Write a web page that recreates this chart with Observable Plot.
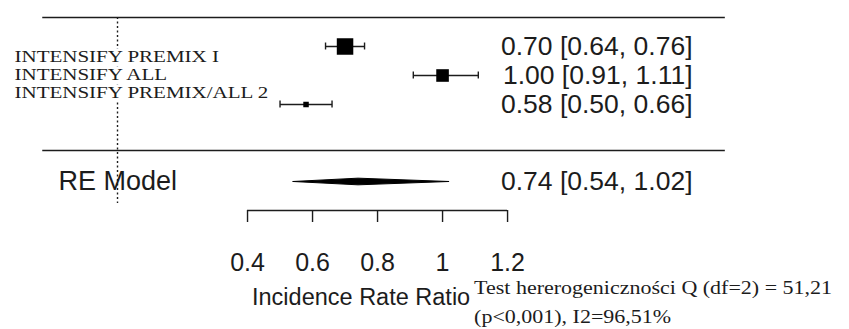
<!DOCTYPE html>
<html><head><meta charset="utf-8">
<script src="https://cdn.jsdelivr.net/npm/d3@7"></script>
<script src="https://cdn.jsdelivr.net/npm/@observablehq/plot@0.6"></script>
<style>html,body{margin:0;padding:0;background:#fff;}#chart svg{display:block;}</style>
</head><body><div id="chart"></div>
<script>
// ---------- data ----------
const studies = ["INTENSIFY PREMIX I", "INTENSIFY ALL", "INTENSIFY PREMIX/ALL 2"];
const estimates = [0.70, 1.00, 0.58];
const ciLower = [0.64, 0.91, 0.50];
const ciUpper = [0.76, 1.11, 0.66];
const pooledLabel = ["RE Model"];
const pooledEstimate = [0.74];
const pooledLower = [0.54];
const pooledUpper = [1.02];
const tickValues = [0.4, 0.6, 0.8, 1.0, 1.2];
const tickLabels = ["0.4", "0.6", "0.8", "1", "1.2"];
const xLabel = ["Incidence Rate Ratio"];
const heterogeneityLines = ["Test hererogeniczności Q (df=2) = 51,21", "(p<0,001), I2=96,51%"];
const refValue = [0];

// ---------- layout (rows, in row units) ----------
const fmt = v => v.toFixed(2);
const studyRow = i => i + 1;
const lineTop = 0, lineMid = 4.586, pooledRow = 5.655;
const refEnd = 6.41, axisRow = 6.655, tickEnd = 7.07, tickLabelRow = 8.45, xLabelRow = 9.655;
const hetRow0 = 9.31, hetStep = 1.0;
const xLeft = -0.23, xRight = 1.87, labelX = -0.317, pooledLabelX = -0.1815, annotX = 1.769;

// box sizes from precision (metafor-style psize 0.5..1.5)
const prec = ciLower.map((lo, i) => 3.92 / (Math.log(ciUpper[i]) - Math.log(lo)));
const pmin = d3.min(prec), pmax = d3.max(prec);
const boxSide = prec.map(w => 11 * (0.5 + (w - pmin) / (pmax - pmin)));

const rows = studies.map((s, i) => ({
  study: s, est: estimates[i], lo: ciLower[i], hi: ciUpper[i], row: studyRow(i),
  labelRow: 1.36 + 0.62 * i, r: boxSide[i] / Math.sqrt(Math.PI),
  annot: `${fmt(estimates[i])} [${fmt(ciLower[i])}, ${fmt(ciUpper[i])}]`
}));
const pooled = pooledLabel.map((l, i) => ({label: l, est: pooledEstimate[i], lo: pooledLower[i], hi: pooledUpper[i],
  annot: `${fmt(pooledEstimate[i])} [${fmt(pooledLower[i])}, ${fmt(pooledUpper[i])}]`}));
const dh = 0.115;
const diamond = pooled.flatMap(p => [
  {x: p.lo, y: pooledRow}, {x: p.est, y: pooledRow - dh}, {x: p.hi, y: pooledRow},
  {x: p.est, y: pooledRow + dh}, {x: p.lo, y: pooledRow}]);
const ticks = tickValues.map((v, i) => ({v, label: tickLabels[i]}));

const sans = "Liberation Sans, Arial, sans-serif";
const serif = "Liberation Serif, Times New Roman, serif";
const ink = "#1c1c1c";

const chart = Plot.plot({
  width: 849, height: 329,
  marginTop: 0, marginBottom: 0, marginLeft: 0, marginRight: 0,
  x: {domain: [-0.36, 2.252], range: [0, 849], axis: null},
  y: {domain: [-17 / 29, 312 / 29], range: [0, 329], axis: null},
  r: {type: "linear", domain: [0, 20], range: [0, 20]},
  style: {background: "#fff"},
  marks: [
    // horizontal separators
    Plot.ruleY([lineTop, lineMid], {x1: xLeft, x2: xRight, y: d => d, stroke: ink, strokeWidth: 1.6}),
    // reference line
    Plot.ruleX(refValue, {x: d => d, y1: lineTop, y2: refEnd, stroke: ink, strokeWidth: 1.4, strokeDasharray: "2,2.5"}),
    // study labels (white halo hides the reference line)
    Plot.text(rows, {x: () => labelX, y: "labelRow", text: "study", textAnchor: "start", fontFamily: serif,
      fontSize: 17, fill: ink, stroke: "white", strokeWidth: 5, paintOrder: "stroke"}),
    // CIs
    Plot.link(rows, {x1: "lo", x2: "hi", y1: "row", y2: "row", stroke: ink, strokeWidth: 1.4}),
    Plot.ruleX(rows, {x: "lo", y1: d => d.row - 0.12, y2: d => d.row + 0.12, stroke: ink, strokeWidth: 1.4}),
    Plot.ruleX(rows, {x: "hi", y1: d => d.row - 0.12, y2: d => d.row + 0.12, stroke: ink, strokeWidth: 1.4}),
    Plot.dot(rows, {x: "est", y: "row", r: "r", symbol: "square", fill: "black", stroke: "none"}),
    Plot.text(rows, {x: () => annotX, y: "row", text: "annot", textAnchor: "end", fontFamily: sans, fontSize: 26.5, fill: ink}),
    // pooled
    Plot.text(pooled, {x: () => pooledLabelX, y: () => pooledRow, text: "label", textAnchor: "start", fontFamily: sans, fontSize: 27, fill: ink}),
    Plot.line(diamond, {x: "x", y: "y", fill: "black", stroke: "black", strokeWidth: 1}),
    Plot.text(pooled, {x: () => annotX, y: () => pooledRow, text: "annot", textAnchor: "end", fontFamily: sans, fontSize: 26.5, fill: ink}),
    // axis
    Plot.ruleY([axisRow], {x1: tickValues[0], x2: tickValues[tickValues.length - 1], y: d => d, stroke: ink, strokeWidth: 1.4}),
    Plot.ruleX(ticks, {x: "v", y1: axisRow, y2: tickEnd, stroke: ink, strokeWidth: 1.4}),
    Plot.text(ticks, {x: "v", y: () => tickLabelRow, text: "label", fontFamily: sans, fontSize: 25, fill: ink}),
    Plot.text(xLabel, {x: () => 1.085, y: () => xLabelRow, text: d => d, textAnchor: "end", fontFamily: sans, fontSize: 23.5, fill: ink}),
    Plot.text(heterogeneityLines, {x: () => 1.097, y: (d, i) => hetRow0 + hetStep * i, text: d => d, textAnchor: "start",
      fontFamily: serif, fontSize: 19.5, fill: ink})
  ]
});
document.getElementById("chart").appendChild(chart);

// the reference's serif texts are horizontally widened: stretch their glyphs to match
function stretch(strings, factor) {
  chart.querySelectorAll("text").forEach(t => {
    if (!strings.includes(t.textContent)) return;
    const w = t.getComputedTextLength();
    if (w > 0) {
      t.setAttribute("textLength", (w * factor).toFixed(1));
      t.setAttribute("lengthAdjust", "spacingAndGlyphs");
    }
  });
}
stretch(studies, 1.235);
stretch(heterogeneityLines, 1.128);
</script>
</body></html>
